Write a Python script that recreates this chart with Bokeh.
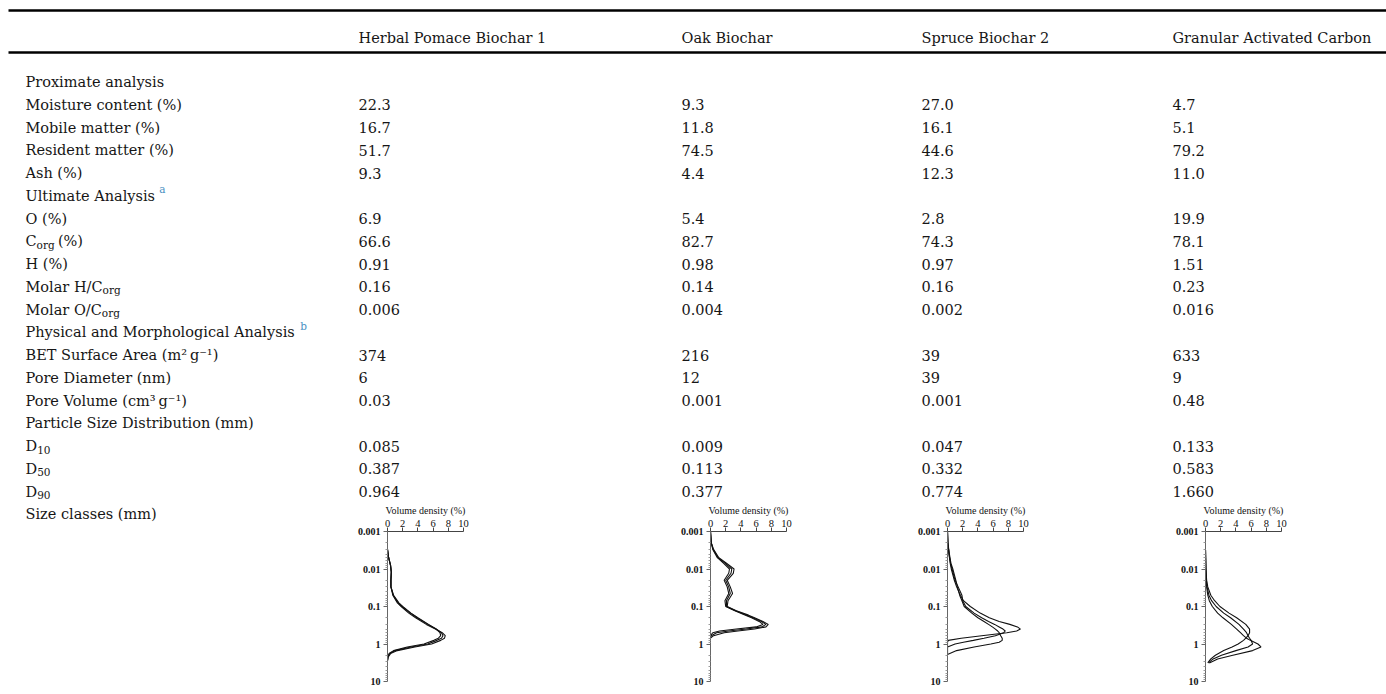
from bokeh.plotting import figure
from bokeh.models import Range1d, FixedTicker, CustomJSTickFormatter, Spacer
from bokeh.layouts import column, row
from bokeh.embed import file_html
from bokeh.resources import INLINE
from bokeh.core.properties import value

# ---------------- data ----------------
materials = ["Herbal Pomace Biochar 1", "Oak Biochar", "Spruce Biochar 2", "Granular Activated Carbon"]

row_labels = [
    [("Proximate analysis", "n")],
    [("Moisture content (%)", "n")],
    [("Mobile matter (%)", "n")],
    [("Resident matter (%)", "n")],
    [("Ash (%)", "n")],
    [("Ultimate Analysis ", "n"), ("a", "ref")],
    [("O (%)", "n")],
    [("C", "n"), ("org", "sub"), (" (%)", "n")],
    [("H (%)", "n")],
    [("Molar H/C", "n"), ("org", "sub")],
    [("Molar O/C", "n"), ("org", "sub")],
    [("Physical and Morphological Analysis ", "n"), ("b", "ref")],
    [("BET Surface Area (m\u00b2\u2009g\u207b\u00b9)", "n")],
    [("Pore Diameter (nm)", "n")],
    [("Pore Volume (cm\u00b3\u2009g\u207b\u00b9)", "n")],
    [("Particle Size Distribution (mm)", "n")],
    [("D", "n"), ("10", "sub")],
    [("D", "n"), ("50", "sub")],
    [("D", "n"), ("90", "sub")],
]
size_classes_label = "Size classes (mm)"

herbal_pomace = ["", "22.3", "16.7", "51.7", "9.3", "", "6.9", "66.6", "0.91", "0.16", "0.006", "",
                 "374", "6", "0.03", "", "0.085", "0.387", "0.964"]
oak = ["", "9.3", "11.8", "74.5", "4.4", "", "5.4", "82.7", "0.98", "0.14", "0.004", "",
       "216", "12", "0.001", "", "0.009", "0.113", "0.377"]
spruce = ["", "27.0", "16.1", "44.6", "12.3", "", "2.8", "74.3", "0.97", "0.16", "0.002", "",
          "39", "39", "0.001", "", "0.047", "0.332", "0.774"]
gac = ["", "4.7", "5.1", "79.2", "11.0", "", "19.9", "78.1", "1.51", "0.23", "0.016", "",
       "633", "9", "0.48", "", "0.133", "0.583", "1.660"]

# particle size distributions: size (mm) vs volume density (%), three replicates each
hp_size = [0.003, 0.005, 0.008, 0.012, 0.02, 0.03, 0.05, 0.08, 0.1, 0.15, 0.2, 0.3, 0.4, 0.5,
           0.6, 0.7, 0.8, 1.0, 1.2, 1.5, 1.8, 2.2, 2.8]
hp_rep1 = [0, 0.15, 0.4, 0.5, 0.45, 0.45, 0.8, 1.5, 2.0, 3.1, 4.0, 5.4, 6.4, 6.9, 7.0, 6.7, 6.1, 4.8, 2.6, 0.8, 0.2, 0.05, 0]
hp_rep2 = [0, 0.15, 0.4, 0.5, 0.45, 0.45, 0.75, 1.4, 1.9, 3.0, 3.9, 5.3, 6.4, 7.1, 7.3, 7.1, 6.5, 5.3, 3.1, 1.0, 0.3, 0.05, 0]
hp_rep3 = [0, 0.15, 0.4, 0.5, 0.45, 0.45, 0.7, 1.3, 1.8, 2.8, 3.7, 5.1, 6.3, 7.2, 7.6, 7.5, 7.0, 5.8, 3.6, 1.3, 0.4, 0.1, 0]

oak_size = [0.001, 0.002, 0.003, 0.005, 0.007, 0.01, 0.013, 0.02, 0.03, 0.045, 0.07, 0.1, 0.13,
            0.17, 0.2, 0.25, 0.3, 0.35, 0.4, 0.45, 0.5, 0.6, 0.7]
oak_rep1 = [0, 0.1, 0.3, 0.9, 1.7, 2.5, 2.4, 1.8, 2.2, 2.4, 1.9, 2.0, 3.2, 4.6, 5.4, 6.4, 6.9, 6.0, 3.4, 1.2, 0.3, 0, 0]
oak_rep2 = [0, 0.1, 0.35, 1.0, 1.9, 2.8, 2.7, 2.0, 2.4, 2.6, 2.1, 2.1, 3.3, 4.8, 5.6, 6.7, 7.3, 6.8, 4.7, 2.4, 0.8, 0.1, 0]
oak_rep3 = [0, 0.1, 0.4, 1.1, 2.1, 3.1, 3.0, 2.2, 2.6, 2.9, 2.3, 2.2, 3.4, 5.0, 5.8, 6.9, 7.6, 7.3, 5.8, 3.6, 1.8, 0.4, 0]

sp_size = [0.001, 0.002, 0.004, 0.007, 0.01, 0.02, 0.03, 0.05, 0.07, 0.1, 0.15, 0.2, 0.25, 0.3,
           0.35, 0.4, 0.45, 0.5, 0.6, 0.7, 0.8, 0.9, 1.0, 1.2, 1.5, 1.9]
sp_rep1 = [0, 0.05, 0.2, 0.35, 0.5, 0.9, 1.2, 1.7, 2.1, 3.0, 4.3, 5.5, 6.8, 8.2, 9.2, 9.6, 9.1, 7.8, 4.5, 1.8, 0.1, 0, 0, 0, 0, 0]
sp_rep2 = [0, 0.05, 0.2, 0.4, 0.6, 1.0, 1.4, 1.9, 2.0, 2.4, 3.5, 4.5, 5.4, 6.2, 6.8, 7.3, 7.6, 7.4, 6.3, 4.8, 3.4, 2.1, 1.0, 0, 0, 0]
sp_rep3 = [0, 0.05, 0.25, 0.45, 0.7, 1.1, 1.3, 1.6, 1.9, 2.2, 3.2, 4.0, 4.8, 5.4, 5.9, 6.3, 6.6, 6.8, 7.0, 7.2, 7.2, 6.8, 5.7, 3.5, 1.2, 0]

gac_size = [0.003, 0.005, 0.01, 0.02, 0.03, 0.05, 0.07, 0.1, 0.15, 0.2, 0.3, 0.4, 0.5, 0.6, 0.7,
            0.8, 1.0, 1.2, 1.5, 2.0, 2.5, 3.2]
gac_rep1 = [0, 0.02, 0.05, 0.15, 0.3, 0.7, 1.2, 1.9, 3.1, 4.1, 5.3, 5.8, 5.8, 5.6, 5.3, 5.0, 4.3, 3.5, 2.4, 1.3, 0.7, 0.3]
gac_rep2 = [0, 0.02, 0.05, 0.12, 0.2, 0.45, 0.8, 1.4, 2.4, 3.3, 4.4, 5.0, 5.4, 5.6, 5.8, 6.0, 6.2, 5.6, 4.0, 2.1, 1.0, 0.4]
gac_rep3 = [0, 0.02, 0.05, 0.1, 0.15, 0.3, 0.5, 0.9, 1.6, 2.3, 3.4, 4.1, 4.6, 5.0, 5.4, 5.9, 6.9, 7.3, 6.2, 3.6, 1.6, 0.5]

x_ticks = [0, 2, 4, 6, 8, 10]
y_ticks = [0.001, 0.01, 0.1, 1, 10]

# ---------------- layout / style ----------------
W, H = 1386, 694
HEAD_H = 60           # header band (rules + column names)
LEFT_W = 347          # width of the row-label column
TOP_H = 499           # bottom of the value table (page px)
FONT = "DejaVu Serif"
CHART_FONT = "Liberation Serif"
TXT = "#161616"
BLUE = "#4a90c2"
FS, FS_SMALL = 14.5, 10.5
LABEL_X = 25
COL_X = [358, 681, 921, 1172]
CHART_X = [387, 710, 947, 1205]   # pixel x of each chart's zero line
HEADER_BASE = 37
BASE0 = 81.5
PITCH = 22.75
RULE_Y = [10, 52]
RULE_X0 = 8
KINDS = {"n": (FS, 0, TXT), "sub": (FS_SMALL, 3.5, TXT), "ref": (FS_SMALL, -6.5, BLUE)}
WIDTH_FUDGE = {"n": 1.0, "sub": 1.18, "ref": 1.0}

# approximate advance widths (1/1000 em) of the serif face, for placing sub/superscripts
ADV = {" ": 318, "(": 390, ")": 390, "%": 950, "/": 337, ".": 318}
for ch in "0123456789":
    ADV[ch] = 636
ADV.update({"A": 722, "B": 735, "C": 765, "D": 802, "H": 872, "M": 1028, "O": 820, "P": 732, "U": 812})
ADV.update({"a": 596, "b": 640, "c": 560, "d": 640, "e": 592, "g": 640, "h": 644, "i": 320,
            "l": 320, "m": 948, "n": 644, "o": 602, "p": 640, "r": 478, "s": 513, "t": 402,
            "u": 644, "y": 565})


def tw(s, kind):
    return sum(ADV.get(c, 600) for c in s) / 1000.0 * KINDS[kind][0] * WIDTH_FUDGE[kind]


def draw_runs(fig, runs):
    for kind, (fs, dy, color) in KINDS.items():
        sel = [r for r in runs if r[3] == kind]
        if not sel:
            continue
        fig.text(x=[r[0] for r in sel], y=[r[1] + dy for r in sel], text=[r[2] for r in sel],
                 text_font=value(FONT), text_font_size=f"{fs}px", text_color=color,
                 text_baseline="alphabetic", text_align="left")


def blank_fig(x0, x1, y0, y1):
    f = figure(width=x1 - x0, height=y1 - y0, x_range=Range1d(x0, x1), y_range=Range1d(y1, y0),
               x_axis_location=None, y_axis_location=None, toolbar_location=None,
               output_backend="svg", min_border=0)
    f.grid.visible = False
    f.outline_line_color = None
    f.background_fill_color = "white"
    f.border_fill_color = "white"
    return f


# ---------------- header band ----------------
head = blank_fig(0, W, 0, HEAD_H)
head.segment(x0=[RULE_X0] * len(RULE_Y), x1=[W] * len(RULE_Y), y0=RULE_Y, y1=RULE_Y,
             line_width=2.5, line_color="black")
draw_runs(head, [(cx, HEADER_BASE, name, "n") for cx, name in zip(COL_X, materials)])

# ---------------- row-label column ----------------
label_fig = blank_fig(0, LEFT_W, HEAD_H, H)
runs = []
all_labels = row_labels + [[(size_classes_label, "n")]]
for i, segs in enumerate(all_labels):
    yb = BASE0 + i * PITCH
    x = LABEL_X
    for t, kind in segs:
        runs.append((x, yb, t, kind))
        x += tw(t, kind)
draw_runs(label_fig, runs)

# ---------------- value table ----------------
table = blank_fig(LEFT_W, W, HEAD_H, TOP_H)
runs = []
for cx, col in zip(COL_X, [herbal_pomace, oak, spruce, gac]):
    for i, v in enumerate(col):
        if v:
            runs.append((cx, BASE0 + i * PITCH, v, "n"))
draw_runs(table, runs)

# ---------------- size-class charts ----------------
CH = H - TOP_H
ML, MR = 40, 12
FRAME_W = 76
CW = ML + FRAME_W + MR
FRAME_TOP = 531 - TOP_H
FRAME_BOT = 681 - TOP_H


def mini_chart(size, reps):
    f = figure(width=CW, height=CH, x_range=Range1d(x_ticks[0], x_ticks[-1]),
               y_range=Range1d(y_ticks[-1], y_ticks[0]), y_axis_type="log",
               x_axis_location="above", toolbar_location=None, output_backend="svg",
               min_border_left=ML, min_border_right=MR, min_border_top=FRAME_TOP,
               min_border_bottom=CH - FRAME_BOT)
    f.grid.visible = False
    f.outline_line_color = None
    f.background_fill_color = "white"
    f.border_fill_color = "white"
    xa = f.xaxis[0]
    xa.ticker = FixedTicker(ticks=x_ticks)
    xa.axis_label = "Volume density (%)"
    xa.axis_label_text_font = CHART_FONT
    xa.axis_label_text_font_size = "10px"
    xa.axis_label_text_font_style = "normal"
    xa.axis_label_text_color = "#111"
    xa.axis_label_standoff = 1
    xa.major_label_text_font = CHART_FONT
    xa.major_label_text_font_size = "10.5px"
    xa.major_label_text_color = "#111"
    xa.major_label_standoff = 1
    xa.major_tick_out = 4
    xa.major_tick_in = 0
    xa.minor_tick_out = 0
    xa.axis_line_color = "#444"
    xa.major_tick_line_color = "#444"
    ya = f.yaxis[0]
    minors = [m * d for d in y_ticks[:-1] for m in range(2, 10)]
    ya.ticker = FixedTicker(ticks=y_ticks, minor_ticks=minors)
    ya.formatter = CustomJSTickFormatter(code="return tick.toString();")
    ya.major_label_text_font = CHART_FONT
    ya.major_label_text_font_size = "10px"
    ya.major_label_text_font_style = "bold"
    ya.major_label_text_color = "#111"
    ya.major_label_standoff = 3
    ya.major_tick_out = 4
    ya.major_tick_in = 0
    ya.minor_tick_out = 2
    ya.minor_tick_in = 0
    ya.axis_line_color = "#666"
    ya.major_tick_line_color = "#666"
    ya.minor_tick_line_color = "#999"
    for r in reps:
        f.line(x=r, y=size, line_color="#111", line_width=1.1)
    return f


charts = [
    mini_chart(hp_size, [hp_rep1, hp_rep2, hp_rep3]),
    mini_chart(oak_size, [oak_rep1, oak_rep2, oak_rep3]),
    mini_chart(sp_size, [sp_rep1, sp_rep2, sp_rep3]),
    mini_chart(gac_size, [gac_rep1, gac_rep2, gac_rep3]),
]

children = []
cursor = LEFT_W
for k, ch in enumerate(charts):
    start = CHART_X[k] - ML
    if start > cursor:
        children.append(Spacer(width=start - cursor, height=CH))
    children.append(ch)
    cursor = start + CW
if cursor < W:
    children.append(Spacer(width=W - cursor, height=CH))

layout = column(head, row(label_fig, column(table, row(children))))
open("out.html", "w").write(file_html(layout, INLINE))
